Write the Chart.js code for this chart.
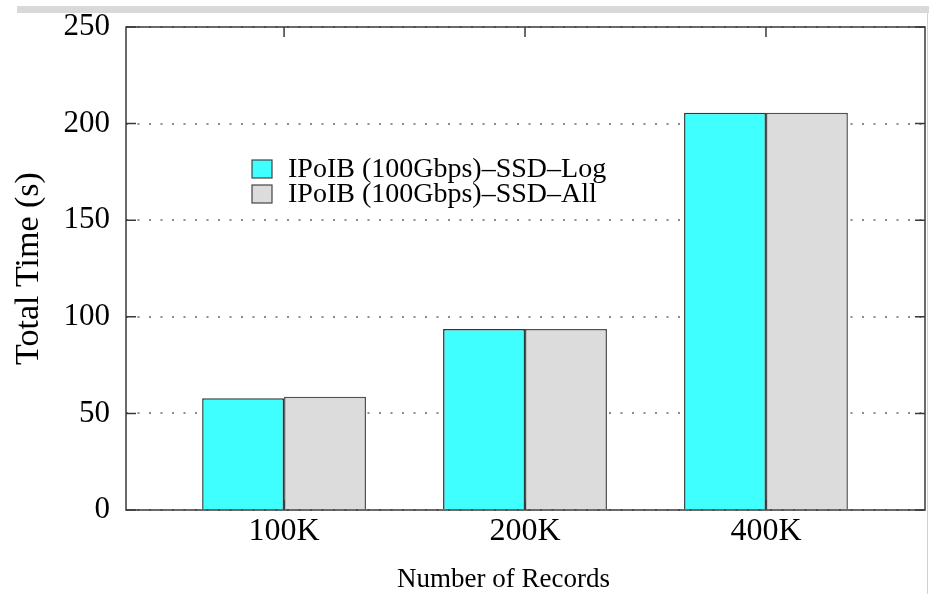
<!DOCTYPE html>
<html>
<head>
<meta charset="utf-8">
<script src="https://cdn.jsdelivr.net/npm/chart.js@4"></script>
<style>
  html, body { margin: 0; padding: 0; background: #fff; }
  #wrap { position: relative; width: 929px; height: 594px; overflow: hidden; }
  canvas { position: absolute; left: 0; top: 0; }
  .strip { position: absolute; left: 17px; top: 6px; width: 912px; height: 7px; background: #d9d9d9; }
  .edge { position: absolute; left: 927px; top: 13px; width: 1px; height: 581px; background: #d2d2d2; }
</style>
</head>
<body>
<div id="wrap">
  <canvas id="c" width="929" height="594"></canvas>
  <div class="strip"></div>
  <div class="edge"></div>
</div>
<script>
// Record counts on the x axis
const categories = ['100K', '200K', '400K'];
// Total time in seconds for each configuration
const logSeconds = [57.8, 93.7, 205.6];
const allSeconds = [58.6, 93.7, 205.6];
const seriesNames = ['IPoIB (100Gbps)\u2013SSD\u2013Log', 'IPoIB (100Gbps)\u2013SSD\u2013All'];
const yTickValues = [0, 50, 100, 150, 200, 250];

const SERIF = "'Liberation Serif', 'Times New Roman', 'DejaVu Serif', serif";

// Gnuplot-style frame, inward tick marks, boxed legend and x-axis title
const framePlugin = {
  id: 'frame',
  afterDatasetsDraw(chart) {
    const { ctx, chartArea: a, scales: { x, y } } = chart;
    const t = 10;
    ctx.save();
    ctx.strokeStyle = '#3a3a3a';
    ctx.lineWidth = 1.5;
    ctx.beginPath();
    y.ticks.forEach(tk => {
      const p = y.getPixelForValue(tk.value);
      ctx.moveTo(a.left, p); ctx.lineTo(a.left + t, p);
      ctx.moveTo(a.right, p); ctx.lineTo(a.right - t, p);
    });
    x.ticks.forEach(tk => {
      const p = x.getPixelForValue(tk.value);
      ctx.moveTo(p, a.top); ctx.lineTo(p, a.top + t);
      ctx.moveTo(p, a.bottom); ctx.lineTo(p, a.bottom - t);
    });
    ctx.stroke();
    ctx.strokeRect(a.left, a.top, a.right - a.left, a.bottom - a.top);

    // legend inside the plot
    const lx = a.left + 126, ly = a.top + 133, rowGap = 25;
    ctx.font = '28px ' + SERIF;
    ctx.textBaseline = 'middle';
    ctx.textAlign = 'left';
    chart.data.datasets.forEach((ds, i) => {
      const by = ly + i * rowGap;
      ctx.fillStyle = ds.backgroundColor;
      ctx.fillRect(lx, by, 20, 18);
      ctx.lineWidth = 1.2;
      ctx.strokeStyle = '#444';
      ctx.strokeRect(lx, by, 20, 18);
      ctx.fillStyle = '#000';
      ctx.fillText(ds.label, lx + 36, by + 10);
    });

    // x-axis title
    ctx.font = '27px ' + SERIF;
    ctx.textAlign = 'center';
    ctx.fillStyle = '#000';
    ctx.fillText('Number of Records', (a.left + a.right) / 2 - 22, a.bottom + 70);
    ctx.restore();
  }
};

new Chart(document.getElementById('c'), {
  type: 'bar',
  data: {
    datasets: [
      {
        label: seriesNames[0],
        data: categories.map((_, i) => ({ x: i, y: logSeconds[i] })),
        backgroundColor: '#40ffff',
        borderColor: '#2e3b3b',
        borderWidth: 1.5
      },
      {
        label: seriesNames[1],
        data: categories.map((_, i) => ({ x: i, y: allSeconds[i] })),
        backgroundColor: '#dcdcdc',
        borderColor: '#505050',
        borderWidth: 1.5
      }
    ]
  },
  options: {
    responsive: false,
    animation: false,
    devicePixelRatio: 1,
    layout: { padding: { top: 27, right: 4, bottom: 0, left: 0 } },
    datasets: { bar: { categoryPercentage: 0.68, barPercentage: 1.0 } },
    plugins: { legend: { display: false }, tooltip: { enabled: false } },
    scales: {
      x: {
        type: 'linear',
        position: 'bottom',
        offset: false,
        min: -0.656,
        max: 2.66,
        afterBuildTicks: s => { s.ticks = categories.map((_, i) => ({ value: i })); },
        afterFit: s => { s.height = 84; },
        grid: { display: false, drawTicks: false, offset: false },
        border: { display: false },
        ticks: {
          autoSkip: false,
          maxRotation: 0,
          padding: 2,
          color: '#000',
          font: { family: SERIF, size: 32 },
          callback: v => categories[v]
        }
      },
      y: {
        min: 0,
        max: 250,
        afterBuildTicks: s => { s.ticks = yTickValues.map(v => ({ value: v })); },
        afterFit: s => { s.width = 126; },
        grid: { color: '#8c8c8c', lineWidth: 2, drawTicks: true, tickLength: 16, tickColor: 'rgba(0,0,0,0)' },
        border: { display: false, dash: [2, 9.5] },
        ticks: {
          padding: 0,
          color: '#000',
          font: { family: SERIF, size: 31 }
        },
        title: {
          display: true,
          text: 'Total Time (s)',
          color: '#000',
          font: { family: SERIF, size: 34 },
          padding: { top: 9, bottom: 0 }
        }
      }
    }
  },
  plugins: [framePlugin]
});
</script>
</body>
</html>
